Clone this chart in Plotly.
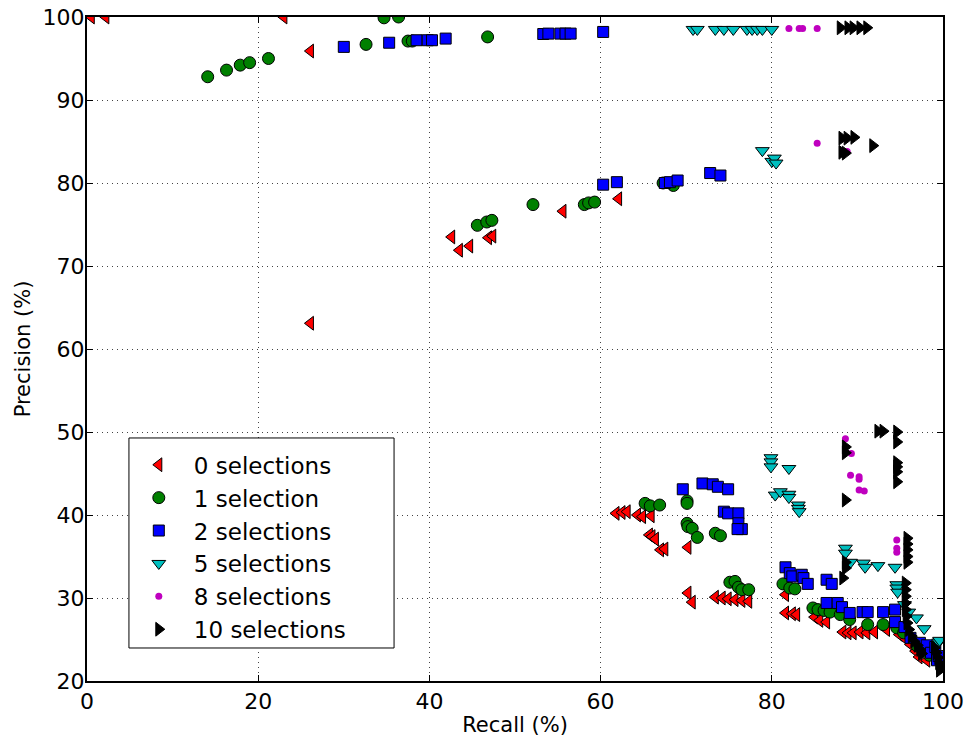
import plotly.graph_objects as go

# ---------------- data (Recall %, Precision %) ----------------
names = ["0 selections", "1 selection", "2 selections", "5 selections", "8 selections", "10 selections"]

x0 = [0.5, 2.2, 23.0, 26.1, 42.6, 43.5, 44.7, 46.9, 47.4, 55.6, 62.1, 26.1,
      61.8, 62.5, 63.1, 64.3, 64.9, 65.9, 65.7, 66.0, 66.4, 67.0, 67.5, 70.2,
      70.2, 70.7, 73.4, 74.2, 74.9, 75.7, 76.5, 77.3,
      81.6, 81.6, 82.4, 82.9, 85.0, 85.6, 86.4, 88.3, 88.9, 89.5, 90.3, 91.1,
      92.0, 93.4, 94.9, 95.7, 96.2, 96.8, 97.2, 98.1]
y0 = [100.0, 100.0, 100.0, 95.9, 73.5, 71.9, 72.4, 73.4, 73.6, 76.6, 78.1, 63.1,
      40.2, 40.3, 40.4, 40.0, 39.8, 39.9, 37.6, 37.4, 37.1, 35.8, 35.9, 36.1,
      30.6, 29.5, 30.1, 30.0, 29.9, 29.8, 29.7, 29.6,
      30.4, 28.2, 28.1, 28.0, 27.7, 27.3, 27.1, 25.9, 25.8, 25.8, 25.9, 25.8,
      25.9, 26.2, 25.6, 25.0, 24.4, 23.6, 22.9, 22.5]

x1 = [34.7, 36.4, 14.1, 16.3, 17.9, 19.0, 21.2, 32.6, 37.5, 38.0, 46.8,
      45.6, 46.7, 47.3, 52.1, 58.1, 58.6, 59.3, 67.3, 68.5,
      65.2, 65.8, 66.9, 70.1, 70.1, 70.1, 70.2, 70.7, 71.3, 73.4, 74.0,
      75.1, 75.7, 76.1, 76.5, 77.3,
      81.3, 82.1, 82.7, 84.8, 85.4, 86.1, 86.8, 88.0, 89.1, 91.2, 93.0,
      94.6, 95.4, 97.0, 98.4]
y1 = [99.9, 100.0, 92.8, 93.6, 94.2, 94.5, 95.0, 96.7, 97.1, 97.1, 97.6,
      74.9, 75.3, 75.5, 77.4, 77.4, 77.6, 77.7, 80.0, 79.7,
      41.4, 41.1, 41.2, 41.7, 41.4, 39.0, 38.6, 38.4, 37.3, 37.8, 37.5,
      31.9, 32.0, 31.3, 31.0, 31.0,
      31.7, 31.2, 31.1, 28.8, 28.6, 28.5, 28.3, 28.0, 27.4, 26.8, 26.8,
      26.4, 25.8, 24.2, 23.1]

x2 = [30.0, 35.3, 38.5, 39.8, 40.3, 41.9, 53.3, 53.9, 55.3, 55.9, 56.5, 60.3,
      60.3, 61.9, 67.5, 68.1, 69.0, 72.8, 74.0,
      69.6, 71.9, 73.1, 73.7, 74.9, 74.4, 74.9, 76.1, 76.1, 76.5, 76.0,
      81.6, 82.1, 82.4, 83.5, 83.7, 84.2, 86.4, 87.0,
      86.4, 87.7, 88.2, 89.1, 90.6, 91.2, 93.0, 94.4, 94.4,
      95.5, 96.2, 97.3, 98.1, 98.6, 99.1, 99.3, 99.5]
y2 = [96.4, 96.9, 97.2, 97.2, 97.2, 97.4, 97.95, 98.0, 98.0, 98.0, 98.0, 98.2,
      79.8, 80.1, 80.0, 80.1, 80.3, 81.2, 80.9,
      43.1, 43.8, 43.7, 43.4, 43.1, 40.4, 40.2, 40.2, 39.0, 38.3, 38.3,
      33.7, 33.0, 32.6, 32.8, 32.4, 31.7, 32.2, 31.7,
      29.4, 29.4, 28.9, 28.2, 28.3, 28.3, 28.3, 28.6, 27.1,
      26.5, 25.2, 24.6, 24.3, 23.4, 24.1, 22.5, 23.0]

x5 = [70.8, 71.3, 73.4, 74.4, 75.5, 77.1, 77.7, 78.3, 78.9, 80.0,
      78.9, 80.0, 80.3, 80.5,
      79.9, 79.9, 79.9, 82.0, 80.4, 81.0, 82.0, 82.0, 83.1, 83.1, 83.2,
      88.6, 88.6, 89.2, 90.7, 90.9, 92.4, 94.4, 94.6, 94.6, 94.7,
      95.5, 96.0, 96.9, 97.8, 99.5, 99.6]
y5 = [98.5, 98.5, 98.5, 98.5, 98.5, 98.5, 98.5, 98.5, 98.5, 98.5,
      83.9, 82.6, 83.0, 82.4,
      46.9, 46.4, 45.8, 45.6, 42.4, 42.8, 42.5, 42.1, 41.2, 40.8, 40.4,
      36.0, 35.4, 34.3, 34.2, 33.7, 33.9, 33.7, 31.6, 31.2, 30.7,
      29.2, 28.3, 27.6, 26.3, 24.7, 24.9]

x8 = [82.0, 83.2, 83.6, 85.3,
      85.3, 88.8,
      88.6, 89.3, 89.2, 90.2, 90.2, 90.2, 90.8,
      94.6, 94.6, 94.6]
y8 = [98.6, 98.6, 98.6, 98.6,
      84.8, 83.8,
      49.2, 47.4, 44.8, 44.6, 44.3, 43.0, 42.9,
      37.0, 36.0, 35.5]

x10 = [88.0, 88.9, 89.5, 90.3, 91.1,
       88.2, 88.8, 89.6, 91.8, 88.2, 88.6,
       92.4, 93.0, 94.6, 94.6, 88.6, 88.6, 94.6, 94.6, 94.6, 94.6, 88.6,
       88.6, 88.6, 88.3,
       95.8, 95.8, 95.8, 95.8, 95.8,
       95.6, 95.6, 95.6, 95.6, 95.6, 95.7, 95.8, 96.0, 96.3, 96.6, 97.0, 97.3, 97.5,
       99.0, 99.2, 99.4, 99.5, 99.6, 99.6]
y10 = [98.7, 98.7, 98.7, 98.7, 98.7,
       85.4, 85.4, 85.5, 84.5, 83.7, 83.6,
       50.1, 50.1, 50.0, 48.8, 48.2, 47.5, 46.3, 45.8, 45.2, 44.0, 41.8,
       34.3, 33.6, 32.4,
       37.2, 36.5, 35.8, 35.0, 34.3,
       31.8, 31.0, 30.2, 29.4, 28.6, 27.8, 27.0, 26.2, 25.4, 24.8, 24.3, 23.8, 23.3,
       24.0, 23.4, 22.8, 22.2, 21.7, 21.3]

x_ticks = [0, 20, 40, 60, 80, 100]
y_ticks = [20, 30, 40, 50, 60, 70, 80, 90, 100]

# ---------------- styling ----------------
series = [
    (x0, y0, "triangle-left", "#ff0000", 12, 1),
    (x1, y1, "circle", "#008000", 12, 1),
    (x2, y2, "square", "#0000ff", 11, 1),
    (x5, y5, "triangle-down", "#00bfbf", 12, 1),
    (x8, y8, "circle", "#bf00bf", 7, 0),
    (x10, y10, "triangle-right", "#000000", 12, 1),
]

fig = go.Figure()
for name, (xs, ys, sym, col, sz, lw) in zip(names, series):
    fig.add_trace(go.Scatter(
        x=xs, y=ys, mode="markers", name=name,
        marker=dict(symbol=sym, color=col, size=sz,
                    line=dict(color="black", width=lw)),
    ))

FONT = "DejaVu Sans"
axis_common = dict(
    showline=True, linecolor="black", linewidth=2, mirror="ticks",
    ticks="inside", ticklen=6, tickwidth=1, tickcolor="black",
    showgrid=True, gridcolor="#444444", gridwidth=1, griddash="1px,4px",
    zeroline=False, automargin=False, ticklabeloverflow="allow",
    tickfont=dict(family=FONT, size=22, color="black"),
)

# legend frame drawn as a box (wider than plotly's auto legend frame)
legend_box = dict(type="rect", xref="paper", yref="paper",
                  x0=0.049, x1=0.3587, y0=0.0497, y1=0.366,
                  line=dict(color="black", width=1), fillcolor="white",
                  layer="above")

fig.update_layout(
    width=970, height=740,
    margin=dict(l=87, r=27, t=17, b=59),
    paper_bgcolor="white", plot_bgcolor="white",
    font=dict(family=FONT, color="black"),
    xaxis=dict(range=[0, 100], tickvals=x_ticks, ticktext=[str(v) for v in x_ticks],
               title=dict(text="Recall (%)", font=dict(family=FONT, size=21), standoff=4),
               **axis_common),
    yaxis=dict(range=[20, 100], tickvals=y_ticks, ticktext=[str(v) for v in y_ticks],
               ticklabelstandoff=-4,
               title=dict(text="Precision (%)", font=dict(family=FONT, size=21), standoff=6),
               **axis_common),
    legend=dict(x=0.043, y=0.358, xanchor="left", yanchor="top",
                bgcolor="rgba(0,0,0,0)", borderwidth=0,
                font=dict(family=FONT, size=23, color="black"),
                itemwidth=60),
    shapes=[legend_box],
    showlegend=True,
)

# remove the default page margin so the figure sits at the window's corner
fig.write_html("out.html", config={"displayModeBar": False},
               post_script="document.body.style.margin='0';")
